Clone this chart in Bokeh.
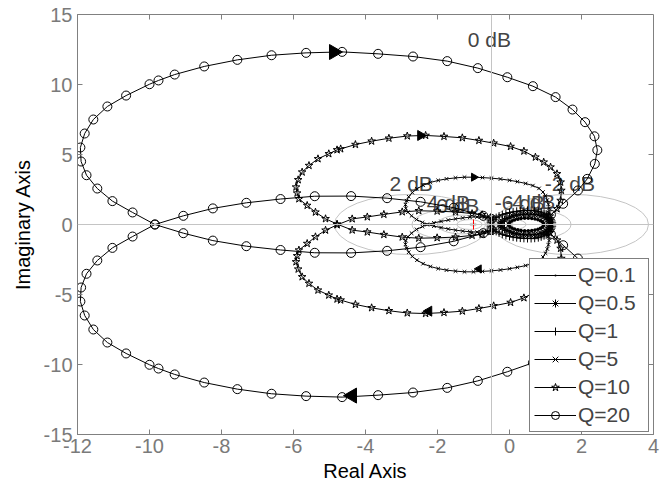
from bokeh.plotting import figure
from bokeh.models import FixedTicker, Span, Legend, LegendItem
from bokeh.core.properties import value
from bokeh.embed import file_html
from bokeh.resources import INLINE
import math

FONT = "Liberation Sans"

# ---- axes ----
x_ticks = [-12, -10, -8, -6, -4, -2, 0, 2, 4]
x_tick_labels = ["-12", "-10", "-8", "-6", "-4", "-2", "0", "2", "4"]
y_ticks = [-15, -10, -5, 0, 5, 10, 15]
y_tick_labels = ["-15", "-10", "-5", "0", "5", "10", "15"]
x_lim = (-12, 4)
y_lim = (-15, 15)

# ---- one frequency branch per Q (the other branch is its mirror image) ----
q20_x = [1.15, 1.49, 1.90, 2.16, 2.37, 2.44, 2.36, 2.10, 1.75, 1.28, 0.65, -0.06, -0.88, -1.73,
         -2.68, -3.65, -4.65, -5.65, -6.61, -7.56, -8.48, -9.30, -9.75, -10.00, -10.65, -11.17,
         -11.56, -11.80, -11.92, -11.90, -11.75, -11.45, -11.03, -10.47, -9.85, -9.06, -8.24,
         -7.31, -6.36, -5.41, -4.40, -3.40, -2.47, -1.55, -0.73, -0.50]
q20_y = [0.70, 1.48, 2.43, 3.26, 4.33, 5.31, 6.30, 7.31, 8.21, 9.10, 9.88, 10.52, 11.17, 11.67,
         12.00, 12.19, 12.33, 12.26, 12.09, 11.76, 11.29, 10.71, 10.29, 10.02, 9.21, 8.43,
         7.50, 6.50, 5.50, 4.50, 3.52, 2.57, 1.67, 0.86, 0.00, -0.62, -1.15,
         -1.55, -1.82, -2.02, -2.03, -1.88, -1.62, -1.20, -0.62, -0.40]

q10_x = [1.12, 1.32, 1.42, 1.44, 1.42, 1.32, 1.14, 0.95, 0.72, 0.40, 0.03, -0.44, -0.85, -1.31,
         -1.82, -2.33, -2.84, -3.35, -3.83, -4.28, -4.69, -4.79, -5.02, -5.32, -5.57, -5.76,
         -5.87, -5.93, -5.90, -5.85, -5.62, -5.39, -5.11, -4.79, -4.37, -3.95, -3.49, -2.98,
         -2.52, -2.01, -1.50, -1.04, -0.76, -0.52]
q10_y = [0.60, 1.12, 1.71, 2.43, 3.02, 3.62, 4.10, 4.45, 4.81, 5.24, 5.57, 5.81, 6.00, 6.19,
         6.29, 6.36, 6.32, 6.16, 5.95, 5.71, 5.40, 5.33, 5.05, 4.69, 4.21, 3.74,
         3.19, 2.67, 2.24, 1.83, 1.36, 0.88, 0.41, 0.03, -0.40, -0.54, -0.72, -0.90,
         -0.98, -0.95, -0.90, -0.78, -0.70, -0.50]

q5_x = [1.05, 1.09, 1.10, 1.08, 1.05, 1.00, 0.93, 0.82, 0.65, 0.45, 0.22, 0.00, -0.25, -0.50,
        -0.75, -1.00, -1.25, -1.50, -1.75, -1.98, -2.20, -2.40, -2.57, -2.70, -2.80, -2.86,
        -2.89, -2.88, -2.82, -2.72, -2.58, -2.42, -2.29, -2.10, -1.90, -1.70, -1.50, -1.30,
        -1.10, -0.90, -0.70, -0.50]
q5_y = [0.55, 0.85, 1.15, 1.45, 1.75, 2.05, 2.32, 2.58, 2.78, 2.93, 3.06, 3.16, 3.25, 3.31,
        3.35, 3.38, 3.38, 3.33, 3.26, 3.15, 3.00, 2.80, 2.55, 2.28, 1.98, 1.70,
        1.42, 1.15, 0.88, 0.62, 0.35, 0.15, 0.00, -0.12, -0.22, -0.32, -0.40, -0.47,
        -0.52, -0.54, -0.52, -0.45]

# small loops (upper half, right to left)
q1_x = [1.19, 1.185, 1.17, 1.15, 1.12, 1.08, 1.02, 0.96, 0.88, 0.80, 0.70, 0.60, 0.50, 0.40,
        0.30, 0.20, 0.10, 0.00, -0.10, -0.20, -0.29, -0.37, -0.44, -0.49, -0.52, -0.53]
q1_y = [0.00, 0.12, 0.25, 0.37, 0.49, 0.60, 0.71, 0.80, 0.88, 0.94, 0.98, 1.00, 1.00, 0.99,
        0.97, 0.94, 0.90, 0.85, 0.78, 0.70, 0.60, 0.49, 0.37, 0.25, 0.12, 0.00]
q05_x = [1.13, 1.12, 1.10, 1.07, 1.02, 0.96, 0.88, 0.79, 0.69, 0.59, 0.49, 0.39, 0.29, 0.19,
         0.10, 0.01, -0.07, -0.14, -0.20, -0.24, -0.26]
q05_y = [0.00, 0.12, 0.24, 0.35, 0.46, 0.55, 0.63, 0.69, 0.72, 0.74, 0.74, 0.73, 0.70, 0.66,
         0.60, 0.52, 0.43, 0.33, 0.22, 0.11, 0.00]
q01_x = [0.95, 0.94, 0.91, 0.86, 0.79, 0.71, 0.62, 0.52, 0.42, 0.32, 0.23, 0.14, 0.07, 0.01, -0.02, -0.03]
q01_y = [0.00, 0.10, 0.19, 0.27, 0.34, 0.39, 0.42, 0.44, 0.44, 0.42, 0.38, 0.32, 0.25, 0.16, 0.08, 0.00]

# direction arrows: x, y, direction (1 = to the right, -1 = to the left)
arrow_x = [-4.88, -4.37, -2.47, -2.24, -0.99, -0.85]
arrow_y = [12.32, -12.22, 6.36, -6.19, 3.38, -3.17]
arrow_dir = [1, -1, 1, -1, 1, -1]
arrow_q = ["20", "20", "10", "10", "5", "5"]

# constant-magnitude circles (dB, centre, radius)
m_db = [2, -2, 4, -4, 6, -6, 10, -10, 20, -20]
m_center = [-2.710, 1.710, -1.661, 0.661, -1.336, 0.336, -1.111, 0.111, -1.010, 0.010]
m_radius = [2.152, 2.152, 1.048, 1.048, 0.669, 0.669, 0.351, 0.351, 0.101, 0.101]
zero_db_re = -0.5

m_label = ["0 dB", "2 dB", "-2 dB", "4 dB", "-4 dB", "6 dB", "-6 dB"]
m_label_x = [-1.16, -3.33, 0.98, -2.30, -0.12, -2.04, -0.41]
m_label_y = [13.25, 2.96, 2.96, 1.60, 1.66, 1.39, 1.60]

crit_x = [-1]
crit_y = [0]

p = figure(frame_width=576, frame_height=420, x_range=x_lim, y_range=y_lim,
           output_backend="svg", toolbar_location=None,
           min_border_left=77, min_border_right=14, min_border_top=14, min_border_bottom=51)
p.background_fill_color = "white"
p.border_fill_color = "white"
p.outline_line_color = "#808080"
p.xgrid.visible = False
p.ygrid.visible = False

GRID = "#c4c4c4"
# grid circles
p.ellipse(x=m_center, y=[0] * len(m_center), width=[2 * r for r in m_radius],
          height=[2 * r for r in m_radius], fill_color=None, line_color=GRID, line_width=1)
p.add_layout(Span(location=zero_db_re, dimension="height", line_color=GRID, line_width=1))
p.add_layout(Span(location=0, dimension="width", line_color=GRID, line_width=1))
p.text(x=m_label_x, y=m_label_y, text=m_label, text_font=value(FONT), text_font_size="21px",
       text_color="#444444", text_align="left", text_baseline="middle")

def neg(v):
    return [-a for a in v]

def loop(xs, ys):
    return xs + xs[::-1], ys + neg(ys)[::-1]

def draw(xs, ys, marker, size, filled=False):
    l1 = p.line(xs, ys, line_color="black", line_width=1)
    s1 = p.scatter(xs, ys, marker=marker, size=size, line_color="black", line_width=1,
                   fill_color="black" if filled else None)
    return l1, s1

# small loops
x1, y1 = loop(q1_x, q1_y)
r_q1 = draw(x1, y1, "cross", 8)
x05, y05 = loop(q05_x, q05_y)
r_q05 = draw(x05, y05, "asterisk", 8)
x01, y01 = loop(q01_x, q01_y)
r_q01 = draw(x01, y01, "dot", 14, filled=True)

r_q5 = draw(q5_x, q5_y, "x", 5)
draw(q5_x, neg(q5_y), "x", 5)
r_q10 = draw(q10_x, q10_y, "star", 8)
draw(q10_x, neg(q10_y), "star", 8)
r_q20 = draw(q20_x, q20_y, "circle", 9)
draw(q20_x, neg(q20_y), "circle", 9)

arrow_size = {"20": 15, "10": 10, "5": 8}
p.scatter(arrow_x, arrow_y, marker="triangle",
          size=[arrow_size[q] for q in arrow_q],
          angle=[-d * math.pi / 2 for d in arrow_dir],
          fill_color="black", line_color="black")

p.scatter(crit_x, crit_y, marker="cross", size=10, line_color="red", line_width=1)

# inward ticks on the top and right edges of the box
top_ticks = x_ticks[1:-1]
right_ticks = y_ticks[1:-1]
p.scatter(top_ticks, [y_lim[1]] * len(top_ticks), marker="dash", size=10, angle=math.pi / 2,
          line_color="#808080", line_width=1)
p.scatter([x_lim[1]] * len(right_ticks), right_ticks, marker="dash", size=10,
          line_color="#808080", line_width=1)

# axes
for ax in (p.xaxis[0], p.yaxis[0]):
    ax.axis_line_color = "#808080"
    ax.major_tick_line_color = "#808080"
    ax.major_tick_in = 5
    ax.major_tick_out = 0
    ax.minor_tick_line_color = None
    ax.major_label_text_font = FONT
    ax.major_label_text_font_size = "20px"
    ax.major_label_text_color = "#7a7a7a"
    ax.axis_label_text_font = FONT
    ax.axis_label_text_font_size = "20px"
    ax.axis_label_text_font_style = "normal"
    ax.axis_label_text_color = "black"

p.xaxis.ticker = FixedTicker(ticks=x_ticks)
p.xaxis.major_label_overrides = {t: s for t, s in zip(x_ticks, x_tick_labels)}
p.yaxis.ticker = FixedTicker(ticks=y_ticks)
p.yaxis.major_label_overrides = {t: s for t, s in zip(y_ticks, y_tick_labels)}
p.xaxis.axis_label = "Real Axis"
p.yaxis.axis_label = "Imaginary Axis"
p.xaxis.major_label_standoff = 4
p.yaxis.major_label_standoff = 5
p.xaxis.axis_label_standoff = 4
p.yaxis.axis_label_standoff = 7

legend_names = ["Q=0.1", "Q=0.5", "Q=1", "Q=5", "Q=10", "Q=20"]
legend_r = [r_q01, r_q05, r_q1, r_q5, r_q10, r_q20]
items = [LegendItem(label=n, renderers=list(r)) for n, r in zip(legend_names, legend_r)]
legend = Legend(items=items, location=(452, 2), border_line_color="black", border_line_width=1,
                background_fill_color="white", background_fill_alpha=1,
                label_text_font=FONT, label_text_font_size="21px",
                glyph_width=42, glyph_height=20, label_height=20, label_width=66,
                spacing=4, padding=4, margin=0, label_standoff=2)
p.add_layout(legend)

open("out.html", "w").write(file_html(p, INLINE))
